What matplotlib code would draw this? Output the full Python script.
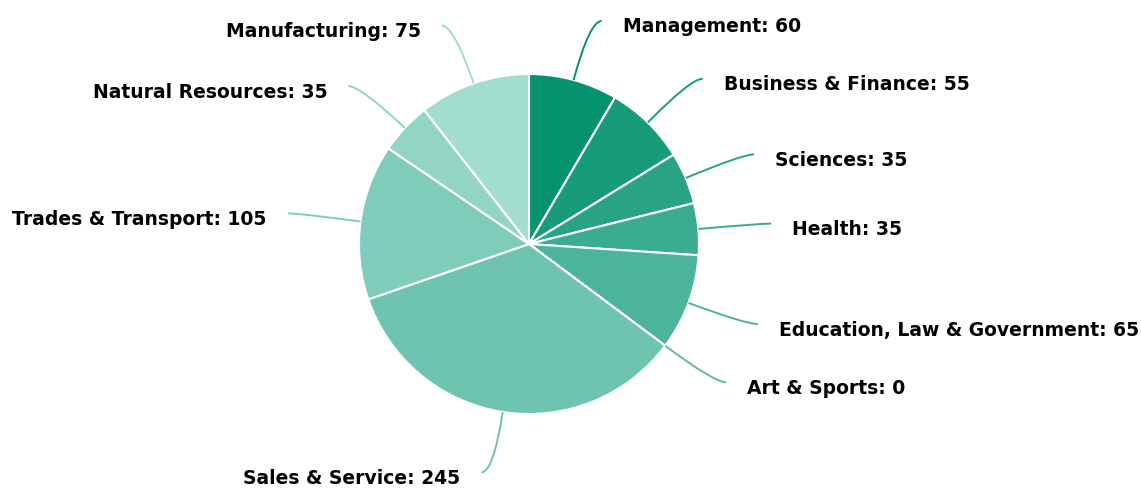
import numpy as np
import matplotlib
matplotlib.use("Agg")
import matplotlib.pyplot as plt
from matplotlib.path import Path
from matplotlib.patches import PathPatch

categories = ["Management", "Business & Finance", "Sciences", "Health",
              "Education, Law & Government", "Art & Sports", "Sales & Service",
              "Trades & Transport", "Natural Resources", "Manufacturing"]
values = [60, 55, 35, 35, 65, 0, 245, 105, 35, 75]
colors = ["#05936f", "#179b7a", "#28a385", "#3aac8f", "#4bb49a",
          "#5dbca5", "#6ec4b0", "#80ccbb", "#92d5c5", "#a3ddd0"]

W, H = 1141, 489
cx, cy, R = 529, 245, 170  # pie centre / radius in pixels

fig = plt.figure(figsize=(W / 100, H / 100), dpi=100)
ax = fig.add_axes([0, 0, 1, 1])

wedges, _ = ax.pie(values, colors=colors, startangle=90, counterclock=False,
                   wedgeprops=dict(edgecolor="white", linewidth=1.5))
ax.set_xlim(-cx / R, (W - cx) / R)
ax.set_ylim(-(H - cy) / R, cy / R)
ax.set_aspect("equal")
ax.axis("off")

px = 1.0 / R
for w, lab, val, col in zip(wedges, categories, values, colors):
    ang = np.deg2rad((w.theta1 + w.theta2) / 2)
    ca, sa = np.cos(ang), np.sin(ang)
    side = 1 if ca >= 0 else -1
    p0 = (ca, sa)
    ctrl = (1.36 * ca, 1.36 * sa)
    p1 = (ctrl[0] + side * 12 * px, ctrl[1])
    path = Path([p0, ctrl, p1], [Path.MOVETO, Path.CURVE3, Path.CURVE3])
    ax.add_patch(PathPatch(path, fill=False, edgecolor=col, linewidth=1.4))
    ax.text(p1[0] + side * 21 * px, p1[1] - 5 * px, f"{lab}: {val}",
            ha="left" if side > 0 else "right", va="center",
            fontsize=13.5, fontweight="bold", color="#000000")

fig.savefig("out.png", dpi=100)
